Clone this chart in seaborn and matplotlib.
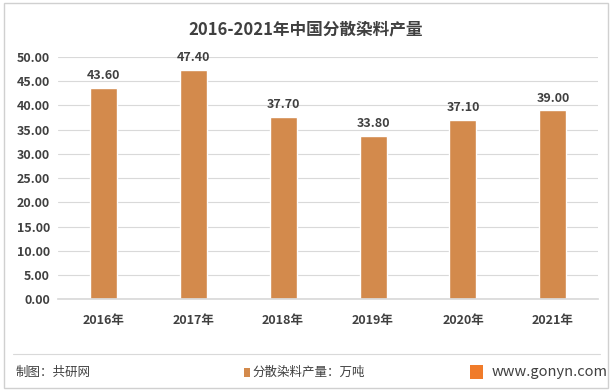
import matplotlib
matplotlib.use("Agg")
import matplotlib.pyplot as plt
import matplotlib.patches as mpatches
import seaborn as sns
import pandas as pd

# data
years = ["2016年", "2017年", "2018年", "2019年", "2020年", "2021年"]
output = [43.60, 47.40, 37.70, 33.80, 37.10, 39.00]
y_ticks = [0, 5, 10, 15, 20, 25, 30, 35, 40, 45, 50]

title = "2016-2021年中国分散染料产量"
legend_label = "分散染料产量：万吨"
source = "制图：共研网"
site = "www.gonyn.com"

sns.set_theme(style="white")
plt.rcParams["font.family"] = ["Noto Sans CJK SC", "DejaVu Sans"]

df = pd.DataFrame({"year": years, "value": output})
bar_color = "#D38A4C"
text_color = "#404040"

fig = plt.figure(figsize=(6.12, 3.91), dpi=100)
ax = fig.add_axes([0.095, 0.235, 0.882, 0.619])

sns.barplot(data=df, x="year", y="value", color=bar_color, width=0.3,
            saturation=1, ax=ax)

ax.set_ylim(0, 50)
ax.set_yticks(y_ticks)
ax.set_yticklabels([f"{v:.2f}" for v in y_ticks], fontsize=9, color=text_color,
                   fontweight="bold")
for lbl in ax.get_xticklabels():
    lbl.set_fontweight("bold")
ax.set_xlabel("")
ax.set_ylabel("")
ax.tick_params(axis="x", labelsize=9, colors=text_color, length=0, pad=11)
ax.tick_params(axis="y", length=0, pad=6)
ax.grid(axis="y", color="#D9D9D9", linewidth=0.8)
ax.set_axisbelow(True)
for s in ["top", "right", "left"]:
    ax.spines[s].set_visible(False)
ax.spines["bottom"].set_color("#D9D9D9")

for p, v in zip(ax.patches, output):
    ax.text(p.get_x() + p.get_width() / 2, v + 1.2, f"{v:.2f}",
            ha="center", va="bottom", fontsize=9, color=text_color,
            fontweight="bold")

fig.text(0.5, 0.925, title, ha="center", va="center", fontsize=12,
         fontweight="bold", color=text_color)

# frame
fig.add_artist(mpatches.Rectangle((0.007, 0.008), 0.986, 0.984, transform=fig.transFigure,
                                  fill=False, edgecolor="#D0D0D0", linewidth=1))
fig.add_artist(plt.Line2D([0.022, 0.98], [0.095, 0.095], transform=fig.transFigure,
                          color="#D9D9D9", linewidth=0.8))

# footer
fig.text(0.025, 0.048, source, ha="left", va="center", fontsize=9, color=text_color)
fig.add_artist(mpatches.Rectangle((0.398, 0.037), 0.011, 0.022, transform=fig.transFigure,
                                  facecolor=bar_color, edgecolor="none"))
fig.text(0.413, 0.048, legend_label, ha="left", va="center", fontsize=9, color=text_color)
fig.add_artist(mpatches.Rectangle((0.768, 0.030), 0.022, 0.036, transform=fig.transFigure,
                                  facecolor="#F07B2A", edgecolor="none"))
fig.text(0.803, 0.048, site, ha="left", va="center", fontsize=10.5, color=text_color)

plt.savefig("out.png", dpi=100)
plt.close()
